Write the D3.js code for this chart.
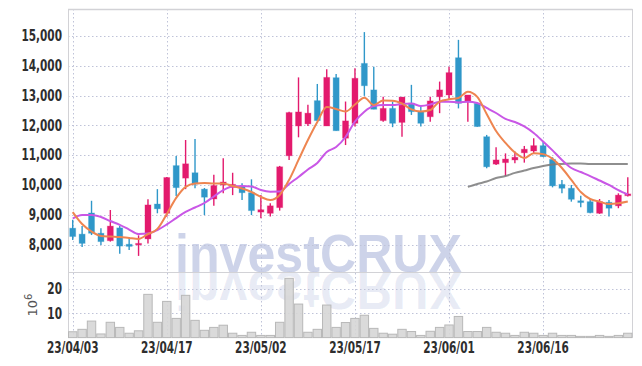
<!DOCTYPE html>
<html>
<head>
<meta charset="utf-8">
<script src="https://cdn.jsdelivr.net/npm/d3@7"></script>
<style>
  body { margin: 0; background: #fff; }
  svg { display: block; font-family: "DejaVu Sans Condensed", "DejaVu Sans", sans-serif; }
</style>
</head>
<body>
<div id="chart"></div>
<script>
// trading days, 23/04/03 .. 23/06/29
var dates = ["23/04/03","23/04/04","23/04/05","23/04/06","23/04/07","23/04/10","23/04/11","23/04/12","23/04/13","23/04/14",
  "23/04/17","23/04/18","23/04/19","23/04/20","23/04/21","23/04/24","23/04/25","23/04/26","23/04/27","23/04/28",
  "23/05/02","23/05/03","23/05/04","23/05/08","23/05/09","23/05/10","23/05/11","23/05/12","23/05/15","23/05/16",
  "23/05/17","23/05/18","23/05/19","23/05/22","23/05/23","23/05/24","23/05/25","23/05/26","23/05/30","23/05/31",
  "23/06/01","23/06/02","23/06/05","23/06/07","23/06/08","23/06/09","23/06/12","23/06/13","23/06/14","23/06/15",
  "23/06/16","23/06/19","23/06/20","23/06/21","23/06/22","23/06/23","23/06/26","23/06/27","23/06/28","23/06/29"];

var opens  = [8550,8350,9060,8380,8130,8560,8010,7990,8190,9360, 9050,10650,10230,10410,9860,9530,10000,9920,9940,9740,
  9090,9050,9240,10980,11980,12050,12830,11980,13600,11570, 12070,14080,13190,12160,12570,12100,12740,12460,12290,12960,
  13020,14270,12800,12740,11620,10700,10750,10840,11080,11140, 11320,10860,10020,9890,9470,9440,9050,9420,9300,9640];
var highs  = [8830,8620,9470,8550,9160,8620,8250,8310,9520,9860, 10270,10970,11510,11540,9900,10340,10900,10410,10060,10190,
  9660,9390,10640,12460,13610,12690,13390,13880,13720,12800, 13920,15130,13970,12960,12800,12950,13360,12650,12960,13470,
  13970,14870,13020,12750,11680,11270,11060,11120,11310,11570, 11450,10930,10170,10000,9640,9550,9530,9500,9720,10260];
var lows   = [8150,7920,8320,7990,8100,7690,7820,7620,8040,9050, 8930,9630,9860,9890,8990,9300,9720,9660,9500,8990,
  8880,8940,9140,10840,11600,11980,12150,11980,11820,11340, 11960,12990,12540,12120,11940,11620,12350,11960,12120,12410,
  12850,12570,12120,11950,10560,10670,10300,10730,10750,11060, 10950,9920,9720,9440,9250,9050,9030,8940,9220,9610];
var closes = [8270,8040,8380,8100,8620,7950,7940,8040,9330,9200, 10250,9910,10710,10030,9590,9980,10100,10020,9740,9140,
  9170,9300,10610,12430,12450,12410,12160,13610,11820,12150, 13580,13330,12540,12570,12070,12950,12460,12070,12820,13190,
  13770,12740,13020,11960,10610,10840,10870,10930,11200,11320, 10950,9970,9890,9520,9410,9070,9440,9220,9660,9700];

// volume, millions
var volumes = [2.4,3.4,6.8,1.5,6.3,4.2,1.8,2.8,17.8,6.3, 14.9,7.9,17.4,7.1,3.0,4.2,5.1,1.8,0.9,2.2,
  0.9,0.9,6.3,24.4,13.8,2.2,3.4,13.4,4.2,6.2, 7.9,9.2,3.8,1.8,1.4,3.4,2.5,0.9,2.6,4.2,
  5.2,8.7,2.5,2.5,4.2,2.2,1.8,0.9,2.2,1.8, 0.9,1.8,0.9,0.9,0.5,0.5,0.9,0.5,0.9,1.8];

// moving averages
var ma5  = [9090,8690,8440,8290,8270,8255,8220,8190,8355,8525, 9025,9565,9935,10050,10065,10050,10050,9965,9880,9765,
  9600,9495,9665,10170,10840,11510,12115,12615,12550,12465, 12700,12930,12685,12835,12830,12735,12535,12465,12515,12800,
  12875,12920,13130,12955,12385,11810,11410,11090,10905,11065, 11035,10875,10570,10170,9765,9530,9440,9360,9385,9445];
var ma10 = [8875,8995,8995,8925,8790,8660,8505,8355,8370,8490, 8675,8890,9095,9245,9395,9615,9830,9950,9965,9950,
  9830,9775,9780,10035,10270,10520,10740,11110,11275,11610, 12130,12460,12650,12685,12685,12720,12735,12650,12700,12795,
  12795,12770,12795,12750,12585,12415,12215,12115,11965,11745, 11460,11160,10840,10570,10435,10300,10150,10000,9830,9680];
var ma60Start = 42;
var ma60 = [9935,10035,10115,10235,10300,10405,10485,10570,10640,10690,10705,10720,10720,10705,10705,10705,10705,10705];

var priceTicks = [8000,9000,10000,11000,12000,13000,14000,15000];
var volumeTicks = [10,20];
var labelIdx = [0,10,20,30,40,50];

var width = 642, height = 366;
var plotL = 68, plotR = 632.5, plotT = 9, plotMid = 272, plotB = 337.6;

var upColor = "#e31a6d", downColor = "#2f97c9";

var svg = d3.select("#chart").append("svg")
  .attr("width", width)
  .attr("height", height);

var x = d3.scaleBand()
  .domain(d3.range(dates.length))
  .range([plotL, plotR])
  .padding(0);
var bw = x.bandwidth();
function cx(i) { return x(i) + bw / 2; }

var y = d3.scaleLinear().domain([7080, 15905]).range([plotMid, plotT]);
var yv = d3.scaleLinear().domain([0, 27]).range([plotB, plotMid]);

// watermark + reflection
var wm = svg.append("g");
wm.append("text")
  .attr("x", 175).attr("y", plotMid)
  .attr("textLength", 287).attr("lengthAdjust", "spacingAndGlyphs")
  .style("font-family", "'Liberation Sans', Arial, sans-serif")
  .style("font-weight", "bold").style("font-size", "53px")
  .style("fill", "#4a60b0").style("fill-opacity", 0.28)
  .text("investCRUX");
wm.append("text")
  .attr("x", 175).attr("y", -plotMid)
  .attr("transform", "scale(1,-1)")
  .attr("textLength", 287).attr("lengthAdjust", "spacingAndGlyphs")
  .style("font-family", "'Liberation Sans', Arial, sans-serif")
  .style("font-weight", "bold").style("font-size", "53px")
  .style("fill", "#4a60b0").style("fill-opacity", 0.12)
  .text("investCRUX");

// grid
var grid = svg.append("g")
  .attr("stroke", "#bfc3d8")
  .attr("stroke-width", 1)
  .attr("stroke-dasharray", "1.5,2.5");
grid.selectAll(".hp").data(priceTicks).enter().append("line")
  .attr("x1", plotL).attr("x2", plotR)
  .attr("y1", function(d) { return Math.round(y(d)) + 0.5; })
  .attr("y2", function(d) { return Math.round(y(d)) + 0.5; });
grid.selectAll(".hv").data(volumeTicks).enter().append("line")
  .attr("x1", plotL).attr("x2", plotR)
  .attr("y1", function(d) { return Math.round(yv(d)) + 0.5; })
  .attr("y2", function(d) { return Math.round(yv(d)) + 0.5; });
grid.selectAll(".vx").data(labelIdx).enter().append("line")
  .attr("x1", function(d) { return Math.round(cx(d)) + 0.5; })
  .attr("x2", function(d) { return Math.round(cx(d)) + 0.5; })
  .attr("y1", plotT).attr("y2", plotB);

// frame
var frame = svg.append("g").attr("stroke", "#d2d2d6").attr("fill", "none");
frame.append("line").attr("x1", plotL).attr("x2", plotR).attr("y1", plotT + 0.5).attr("y2", plotT + 0.5).attr("stroke-width", 1.5);
frame.append("line").attr("x1", plotL).attr("x2", plotR).attr("y1", plotMid + 0.5).attr("y2", plotMid + 0.5);
frame.append("line").attr("x1", plotL + 0.5).attr("x2", plotL + 0.5).attr("y1", plotT).attr("y2", plotB);
frame.append("line").attr("x1", plotR).attr("x2", plotR).attr("y1", plotT).attr("y2", plotB);

// volume bars
svg.append("g").selectAll("rect")
  .data(volumes).enter().append("rect")
  .attr("x", function(d, i) { return x(i) + 0.5; })
  .attr("width", bw - 1)
  .attr("y", function(d) { return yv(d); })
  .attr("height", function(d) { return plotB - yv(d); })
  .style("fill", "#d6d6d6").style("fill-opacity", 0.9)
  .style("stroke", "#b8b8b8").style("stroke-width", 1);

// candles
function candleColor(i) { return closes[i] >= opens[i] ? upColor : downColor; }
var candles = svg.append("g").selectAll("g")
  .data(d3.range(dates.length)).enter().append("g");
candles.append("line")
  .attr("x1", function(i) { return cx(i); })
  .attr("x2", function(i) { return cx(i); })
  .attr("y1", function(i) { return y(highs[i]); })
  .attr("y2", function(i) { return y(lows[i]); })
  .attr("stroke", candleColor)
  .attr("stroke-width", 1.4);
candles.append("rect")
  .attr("x", function(i) { return cx(i) - 3; })
  .attr("width", 6)
  .attr("y", function(i) { return y(Math.max(opens[i], closes[i])); })
  .attr("height", function(i) { return Math.max(1.5, Math.abs(y(opens[i]) - y(closes[i]))); })
  .attr("fill", candleColor)
  .attr("stroke", candleColor)
  .attr("stroke-opacity", 0.3)
  .attr("stroke-width", 1);

// moving average lines
var line = d3.line()
  .x(function(d) { return cx(d[0]); })
  .y(function(d) { return y(d[1]); })
  .curve(d3.curveMonotoneX);

svg.append("path")
  .attr("d", line(ma60.map(function(v, k) { return [k + ma60Start, v]; })))
  .attr("fill", "none").attr("stroke", "#7a7a7a").attr("stroke-width", 2).attr("stroke-opacity", 0.85);
svg.append("path")
  .attr("d", line(ma10.map(function(v, i) { return [i, v]; })))
  .attr("fill", "none").attr("stroke", "#c957e6").attr("stroke-width", 2);
svg.append("path")
  .attr("d", line(ma5.map(function(v, i) { return [i, v]; })))
  .attr("fill", "none").attr("stroke", "#ee8550").attr("stroke-width", 2);

// axes
var yAxis = svg.append("g")
  .attr("transform", "translate(" + plotL + ",0)")
  .call(d3.axisLeft(y).tickValues(priceTicks).tickFormat(d3.format(",")).tickSize(0).tickPadding(6));
var vAxis = svg.append("g")
  .attr("transform", "translate(" + plotL + ",0)")
  .call(d3.axisLeft(yv).tickValues(volumeTicks).tickSize(0).tickPadding(6));
var xAxis = svg.append("g")
  .attr("transform", "translate(0," + plotB + ")")
  .call(d3.axisBottom(x).tickValues(labelIdx).tickFormat(function(i) { return dates[i]; }).tickSize(0).tickPadding(5));

// narrow tall labels: condensed font squeezed a bit more
[yAxis, vAxis, xAxis].forEach(function(a) {
  a.select(".domain").remove();
  a.selectAll("text")
    .style("font-family", "'DejaVu Sans Condensed', 'DejaVu Sans', sans-serif")
    .style("font-weight", "bold")
    .style("font-size", "15px")
    .style("fill", "#2e2e2e");
});
yAxis.selectAll("text").attr("x", -6 / 0.78).attr("transform", "scale(0.78,1)");
vAxis.selectAll("text").attr("x", -6 / 0.78).attr("transform", "scale(0.78,1)");
xAxis.selectAll("text").attr("transform", "scale(0.78,1)");

// 10^6 unit label
var unit = svg.append("text")
  .attr("transform", "translate(37,305) rotate(-90)")
  .attr("text-anchor", "middle")
  .style("font-family", "'DejaVu Sans', sans-serif")
  .style("font-size", "13px")
  .style("fill", "#555");
unit.append("tspan").text("10");
unit.append("tspan").attr("dy", -5).style("font-size", "10px").text("6");
</script>
</body>
</html>
